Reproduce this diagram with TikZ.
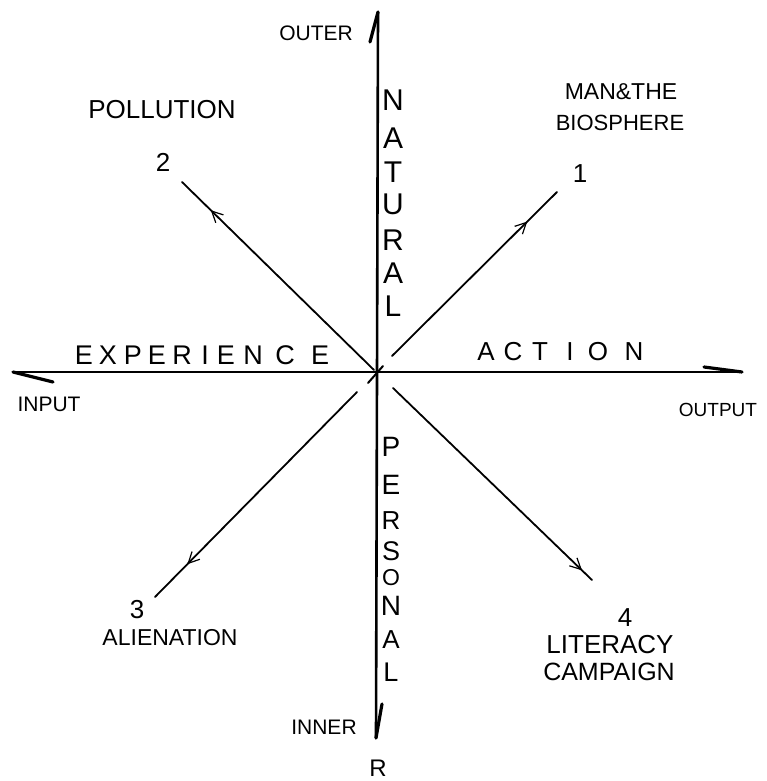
\documentclass[tikz,border=0pt]{standalone}
\usepackage{fontspec}
\setmainfont{Liberation Sans}
\usetikzlibrary{arrows.meta,decorations.markings}

\tikzset{
  axisline/.style={line width=2.6pt, line cap=round},
  barb/.style={line width=3.2pt, line cap=round},
  ray/.style={line width=1.8pt, line cap=round, postaction={decorate},
    decoration={markings, mark=at position #1 with
      {\arrow{Straight Barb[length=11pt,width=11pt,line width=1.2pt]}}}},
  lbl/.style={inner sep=0pt, font=\fontsize{#1}{#1}\selectfont},
}

\begin{document}
\begin{tikzpicture}[x=1pt,y=-1pt]
\useasboundingbox (0,0) rectangle (767,781);

% axis end points
\coordinate (top) at (378,12);
\coordinate (bot) at (376,738);
\coordinate (lft) at (13,372);
\coordinate (rgt) at (742,372);

% axes
\draw[axisline] (top) -- (bot);
\draw[axisline] (lft) -- (rgt);

% half-arrow barbs at the axis ends
\draw[barb] (top) -- ++(-8,30);
\draw[barb] (bot) -- ++(6,-34);
\draw[barb] (lft) -- ++(40,10);
\draw[barb] (rgt) -- ++(-38,-5);

% diagonal rays from the centre outwards
\coordinate (s1) at (392,356);  \coordinate (e1) at (557,192);
\coordinate (s2) at (374,370);  \coordinate (e2) at (182,182);
\coordinate (s3) at (357,392);  \coordinate (e3) at (155,597);
\coordinate (s4) at (393,388);  \coordinate (e4) at (592,580);
\draw[ray=0.82] (s1) -- (e1);
\draw[ray=0.85] (s2) -- (e2);
\draw[ray=0.84] (s3) -- (e3);
\draw[ray=0.95] (s4) -- (e4);

% small cross at the centre
\coordinate (c1) at (368,383);
\coordinate (c2) at (383,366);
\draw[line width=2pt, line cap=round] (c1) -- (c2);

% axis labels
\node[lbl=21] (outer)  at (316,33)  {OUTER};
\node[lbl=21] (inner)  at (324,727) {INNER};
\node[lbl=24] (rmark)  at (378,768) {R};
\node[lbl=21] (input)  at (49,404)  {INPUT};
\node[lbl=19] (output) at (718,410) {OUTPUT};

% spaced words along the axes
\foreach \ch/\xx [count=\i] in {E/84,X/108,P/133,E/157,R/182,I/205,E/226,N/253,C/285,E/320}
  \node[lbl=27] (exp\i) at (\xx,355) {\ch};
\foreach \ch/\xx [count=\i] in {A/486,C/513,T/540,I/570,O/598,N/634}
  \node[lbl=26] (act\i) at (\xx,352) {\ch};
\foreach \ch/\yy [count=\i] in {N/100,A/138,T/172,U/204,R/240,A/273,L/306}
  \node[lbl=30] (nat\i) at (393,\yy) {\ch};
\foreach \ch/\yy/\sz [count=\i] in {P/447/28,E/485/28,R/521/26,S/551/27,O/578/23,N/606/28,A/640/26,L/672/27}
  \node[lbl=\sz] (per\i) at (391,\yy) {\ch};

% quadrant labels
\node[lbl=26] (n1)    at (580,174) {1};
\node[lbl=23] (man)   at (621,92)  {MAN\&THE};
\node[lbl=22] (bio)   at (620,123) {BIOSPHERE};
\node[lbl=26] (n2)    at (163,162) {2};
\node[lbl=26] (poll)  at (162,110) {POLLUTION};
\node[lbl=26] (n3)    at (137,610) {3};
\node[lbl=23] (alien) at (170,638) {ALIENATION};
\node[lbl=26] (n4)    at (625,618) {4};
\node[lbl=26] (lit)   at (610,645) {LITERACY};
\node[lbl=25] (camp)  at (609,672) {CAMPAIGN};
\end{tikzpicture}
\end{document}
